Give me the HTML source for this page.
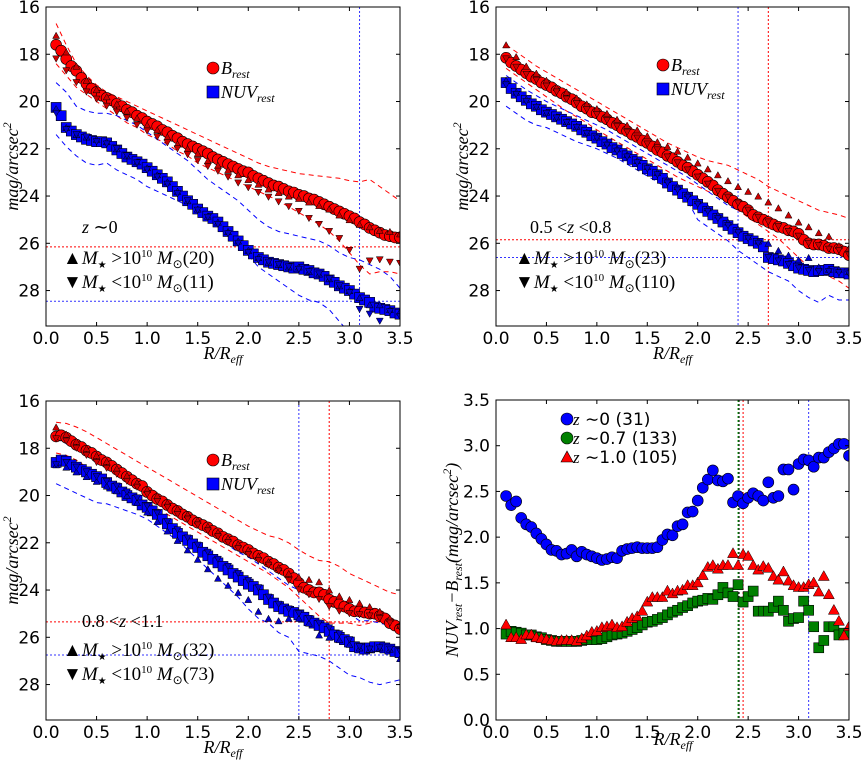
<!DOCTYPE html>
<html><head><meta charset="utf-8"><style>
body{margin:0;background:#fff;}
svg text{font-family:"DejaVu Sans","Liberation Sans",sans-serif;}
svg text.m{font-family:"Liberation Serif",serif;font-style:italic;}
svg text.s{font-family:"Liberation Serif",serif;}
</style></head><body>
<svg id="fig" width="863" height="760" viewBox="0 0 863 760" xmlns="http://www.w3.org/2000/svg"></svg>
<script>
// ---------- data ----------
const xTicks = [0.0,0.5,1.0,1.5,2.0,2.5,3.0,3.5];
const magTicks = [16,18,20,22,24,26,28];
const colTicks = [0.0,0.5,1.0,1.5,2.0,2.5,3.0,3.5];
// panel 1 (z~0)
const p1B = [17.6,17.85,18.2,18.5,18.7,19.0,19.25,19.45,19.6,19.75,19.85,19.95,20.1,20.2,20.35,20.45,20.6,20.7,20.85,20.95,21.05,21.2,21.3,21.45,21.55,21.7,21.8,21.9,22.0,22.1,22.2,22.35,22.45,22.55,22.65,22.75,22.85,22.95,23.0,23.15,23.25,23.35,23.45,23.55,23.6,23.7,23.8,23.85,23.95,24.0,24.1,24.15,24.25,24.35,24.45,24.55,24.65,24.75,24.85,24.95,25.1,25.2,25.35,25.45,25.55,25.65,25.7,25.75,25.75];
const p1N = [20.25,20.6,21.1,21.25,21.4,21.5,21.6,21.65,21.7,21.7,21.75,21.9,22.05,22.2,22.35,22.45,22.55,22.65,22.8,22.95,23.1,23.25,23.4,23.6,23.8,24.0,24.2,24.35,24.55,24.7,24.85,24.95,25.1,25.3,25.5,25.7,25.9,26.1,26.3,26.45,26.6,26.7,26.8,26.85,26.9,26.95,27.0,27.05,27.0,27.1,27.15,27.25,27.3,27.4,27.55,27.65,27.8,27.9,28.0,28.15,28.3,28.4,28.5,28.7,28.75,28.8,28.85,28.95,29.0];
const p1BHi = [17.2,17.9,18.5,19.1,19.5,19.8,20.1,20.4,20.7,21.0,21.2,21.5,21.8,22.0,22.2,22.5,22.7,22.9,23.1,23.3,23.5,23.7,23.85,24.0,24.1,24.25,24.4,24.55,24.8,25.0,25.2,25.3,25.45,25.5,25.6];
const p1BLo = [18.2,18.7,19.2,19.6,19.9,20.2,20.45,20.7,21.0,21.25,21.5,21.75,22.0,22.25,22.5,22.75,22.95,23.2,23.45,23.65,23.85,24.05,24.25,24.45,24.65,24.95,25.2,25.5,25.8,26.3,27.1,26.75,26.7,26.8,26.85];
const p1NHi = [20.3,21.1,21.4,21.5,21.6,21.7,22.0,22.3,22.55,22.8,23.1,23.4,23.8,24.2,24.55,24.85,25.1,25.5,25.9,26.3,26.6,26.8,26.9,27.0,27.0,27.2,27.3,27.5,27.8,28.0,28.3,28.6,28.6,28.8,28.9];
const p1NLo = [20.5,21.2,21.4,21.5,21.7,21.8,22.0,22.3,22.6,22.9,23.2,23.5,23.9,24.2,24.6,24.9,25.2,25.6,26.0,26.4,26.7,26.8,26.9,27.0,27.1,27.2,27.3,27.5,27.8,28.1,28.8,29.0,29.3,28.9,29.1];
const p1BUp = [16.7,17.6,18.4,18.9,19.3,19.6,19.8,20.0,20.2,20.4,20.6,20.8,21.0,21.2,21.4,21.6,21.8,22.0,22.2,22.4,22.6,22.75,22.85,22.95,23.05,23.1,23.15,23.2,23.25,23.35,23.4,23.3,23.6,23.9,24.2];
const p1BDn = [18.4,18.9,19.4,19.7,20.0,20.3,20.6,20.9,21.1,21.4,21.6,21.8,22.1,22.3,22.6,22.8,23.0,23.2,23.4,23.6,23.8,24.0,24.2,24.45,24.7,24.95,25.2,25.5,25.9,26.4,26.9,27.3,27.2,27.2,27.3];
const p1NUp = [19.2,19.6,20.2,20.4,20.5,20.5,20.6,20.8,21.0,21.3,21.6,21.9,22.2,22.5,22.9,23.3,23.6,23.9,24.2,24.6,25.0,25.3,25.5,25.6,25.7,25.8,25.9,26.1,26.4,26.6,26.7,26.9,27.1,27.4,27.9];
const p1NDn = [21.4,21.9,22.3,22.6,22.7,22.6,22.9,23.1,23.3,23.6,23.8,24.0,24.2,24.4,24.6,24.9,25.2,25.6,26.0,26.5,27.0,27.3,27.6,27.9,28.2,28.4,28.5,28.8,29.3,29.8,30,30,30,30,30];
// panel 2 (0.5<z<0.8)
const p2B = [18.15,18.35,18.5,18.65,18.8,18.95,19.05,19.2,19.3,19.4,19.55,19.65,19.8,19.9,20.05,20.2,20.3,20.45,20.5,20.65,20.75,20.9,21.0,21.15,21.25,21.4,21.5,21.65,21.75,21.9,22.05,22.15,22.3,22.4,22.55,22.7,22.8,22.95,23.1,23.25,23.4,23.55,23.75,23.9,24.05,24.2,24.35,24.45,24.6,24.8,24.9,25.0,25.1,25.2,25.3,25.35,25.45,25.5,25.6,25.85,26.0,26.05,26.05,26.1,26.2,26.2,26.25,26.35,26.5];
const p2N = [19.2,19.45,19.65,19.8,19.95,20.1,20.2,20.35,20.45,20.55,20.65,20.75,20.85,20.95,21.05,21.2,21.3,21.45,21.55,21.7,21.8,21.95,22.05,22.2,22.3,22.45,22.55,22.7,22.85,22.95,23.1,23.25,23.45,23.6,23.75,23.9,24.05,24.2,24.35,24.5,24.65,24.8,24.95,25.1,25.25,25.4,25.55,25.7,25.8,25.9,26.0,26.15,26.6,26.65,26.7,26.75,26.85,26.95,27.05,27.1,27.15,27.2,27.15,27.15,27.1,27.2,27.25,27.25,27.3];
const p2BHi = [17.6,18.1,18.5,18.8,19.1,19.4,19.6,19.85,20.1,20.3,20.5,20.75,21.0,21.2,21.45,21.7,21.9,22.1,22.35,22.6,22.85,23.1,23.35,23.6,23.8,24.0,24.25,24.5,24.8,25.1,25.3,25.55,25.7,26.1,26.2];
const p2BLo = [18.2,18.55,18.85,19.1,19.35,19.6,19.9,20.1,20.35,20.55,20.8,21.05,21.3,21.55,21.8,22.05,22.35,22.6,22.9,23.2,23.5,23.8,24.05,24.3,24.6,24.9,25.1,25.3,25.5,25.7,26.0,26.1,26.25,26.3,26.5];
const p2NHi = [19.1,19.6,19.9,20.2,20.45,20.65,20.85,21.05,21.3,21.5,21.75,22.0,22.25,22.5,22.75,23.0,23.3,23.6,23.9,24.2,24.5,24.8,25.1,25.4,25.7,25.9,26.0,26.3,26.5,26.7,26.6,27.0,27.1,27.1,27.2];
const p2NLo = [19.3,19.7,20.0,20.25,20.5,20.7,20.9,21.1,21.35,21.55,21.85,22.1,22.35,22.6,22.85,23.1,23.45,23.75,24.05,24.35,24.65,24.95,25.25,25.55,25.8,26.0,26.6,26.75,26.9,27.05,27.15,27.2,27.2,27.25,27.3];
const p2BUp = [17.6,17.9,18.2,18.5,18.75,19.0,19.25,19.5,19.75,20.0,20.25,20.5,20.75,21.0,21.25,21.5,21.75,21.95,22.15,22.35,22.5,22.6,22.7,22.9,23.1,23.3,23.6,23.8,24.0,24.2,24.4,24.6,24.7,24.8,24.95];
const p2BDn = [18.6,18.9,19.2,19.5,19.8,20.1,20.4,20.65,20.9,21.2,21.45,21.7,21.95,22.2,22.45,22.7,22.95,23.2,23.4,23.6,23.8,24.0,24.3,24.6,24.9,25.2,25.5,25.8,26.2,26.6,27.0,27.2,27.4,27.6,27.9];
const p2NUp = [18.9,19.2,19.5,19.75,20.0,20.2,20.4,20.6,20.8,21.0,21.2,21.45,21.7,21.95,22.2,22.45,22.7,22.95,23.2,23.5,23.8,24.1,24.4,24.6,24.7,24.9,25.1,25.3,25.5,25.7,25.9,25.9,26.0,26.1,26.2];
const p2NDn = [20.2,20.5,20.8,21.0,21.1,21.3,21.5,21.7,21.85,22.0,22.2,22.4,22.65,22.9,23.15,23.4,23.65,23.9,24.2,25.0,25.3,25.6,25.9,26.3,26.6,26.9,27.2,27.4,27.6,28.0,28.3,28.5,28.2,28.4,28.4];
// panel 3 (0.8<z<1.1)
const p3B = [17.5,17.45,17.55,17.7,17.85,17.95,18.1,18.2,18.35,18.5,18.6,18.75,18.9,19.05,19.2,19.35,19.5,19.6,19.85,20.0,20.15,20.25,20.4,20.55,20.65,20.8,20.9,21.05,21.15,21.25,21.35,21.5,21.6,21.75,21.85,21.95,22.1,22.2,22.3,22.45,22.55,22.65,22.8,22.9,23.05,23.15,23.3,23.5,23.7,23.9,24.0,24.1,24.1,24.2,24.4,24.5,24.6,24.7,24.8,24.9,24.9,24.95,25.0,25.0,25.1,25.2,25.4,25.5,25.65];
const p3N = [18.6,18.5,18.55,18.7,18.8,18.9,19.0,19.1,19.2,19.3,19.45,19.6,19.7,19.85,20.0,20.1,20.2,20.4,20.5,20.65,20.8,21.0,21.2,21.4,21.6,21.75,21.9,22.05,22.2,22.4,22.55,22.7,22.85,23.0,23.15,23.3,23.45,23.6,23.75,23.85,24.0,24.2,24.4,24.55,24.7,24.8,24.9,24.95,25.05,25.15,25.3,25.4,25.5,25.6,25.75,25.9,26.0,26.1,26.2,26.4,26.45,26.5,26.45,26.4,26.4,26.45,26.5,26.6,26.65];
const p3BHi = [17.1,17.4,17.7,18.0,18.3,18.55,18.85,19.15,19.45,19.75,20.0,20.3,20.55,20.8,21.05,21.3,21.55,21.8,22.05,22.3,22.55,22.8,23.05,23.3,23.45,23.55,23.65,24.0,24.25,24.4,24.55,24.7,24.9,25.2,25.5];
const p3BLo = [17.6,17.7,18.0,18.3,18.6,18.85,19.1,19.4,19.65,19.95,20.25,20.5,20.8,21.0,21.25,21.5,21.75,22.0,22.25,22.5,22.75,22.95,23.2,23.6,24.0,24.2,24.4,24.7,24.9,25.0,25.05,25.1,25.2,25.4,25.6];
const p3NHi = [18.7,18.8,19.0,19.2,19.4,19.6,19.8,20.0,20.3,20.7,21.1,21.5,21.9,22.3,22.7,23.1,23.5,23.8,24.1,24.4,24.9,25.2,25.3,25.2,25.2,25.4,25.9,26.0,26.1,26.3,26.45,26.5,26.45,26.5,26.9];
const p3NLo = [18.7,18.6,18.8,19.0,19.2,19.4,19.6,19.85,20.1,20.45,20.75,21.1,21.45,21.8,22.1,22.4,22.7,23.0,23.3,23.6,23.9,24.3,24.6,24.8,25.0,25.2,25.4,25.6,25.85,26.1,26.4,26.5,26.45,26.5,26.6];
const p3BUp = [16.9,16.95,17.1,17.3,17.55,17.8,18.05,18.3,18.55,18.8,19.05,19.3,19.55,19.8,20.05,20.3,20.55,20.8,21.05,21.3,21.5,21.7,21.8,22.0,22.3,22.55,22.75,22.8,23.0,23.3,23.5,23.7,23.9,24.1,24.2];
const p3BDn = [18.2,18.3,18.5,18.8,19.0,19.3,19.55,19.8,20.05,20.3,20.55,20.8,21.05,21.3,21.55,21.8,22.05,22.3,22.55,22.8,23.05,23.3,23.6,23.9,24.3,24.7,25.1,25.4,25.4,25.4,25.5,25.4,25.3,25.4,25.6];
const p3NUp = [17.6,17.8,18.0,18.2,18.4,18.7,18.95,19.2,19.45,19.7,20.0,20.3,20.6,20.9,21.2,21.5,21.8,22.1,22.4,22.6,22.9,23.2,23.5,23.8,24.0,24.2,24.3,24.5,24.7,25.0,25.3,25.3,25.4,25.5,25.6];
const p3NDn = [19.5,19.7,19.9,20.1,20.3,20.35,20.5,20.65,20.8,21.0,21.3,21.6,21.9,22.3,22.7,23.1,23.5,23.9,24.3,24.8,25.2,25.4,25.8,26.0,26.6,26.7,26.8,27.0,27.3,27.6,27.7,27.9,28.0,27.9,27.8];
// panel 4 colours
const c0 = [2.45,2.35,2.39,2.21,2.14,2.11,2.04,1.98,1.92,1.86,1.85,1.81,1.82,1.86,1.79,1.84,1.81,1.79,1.77,1.75,1.76,1.78,1.77,1.85,1.87,1.88,1.89,1.88,1.88,1.88,1.89,1.97,2.03,2.02,2.12,2.14,2.27,2.28,2.40,2.54,2.63,2.73,2.62,2.61,2.64,2.38,2.45,2.37,2.43,2.48,2.45,2.40,2.60,2.43,2.45,2.74,2.74,2.52,2.80,2.85,2.84,2.77,2.87,2.87,2.93,2.97,3.02,3.02,2.89];
const c07 = [0.94,0.97,0.96,0.95,0.93,0.93,0.91,0.90,0.88,0.87,0.86,0.86,0.86,0.86,0.86,0.87,0.88,0.88,0.88,0.89,0.91,0.93,0.94,0.95,0.97,0.99,1.01,1.04,1.07,1.08,1.10,1.12,1.15,1.18,1.20,1.23,1.25,1.28,1.30,1.31,1.33,1.32,1.37,1.45,1.39,1.35,1.48,1.29,1.35,1.41,1.19,1.19,1.19,1.23,1.30,1.20,1.08,1.11,1.12,1.30,1.20,1.02,0.79,0.87,1.02,1.02,0.93,0.95,0.95];
const c10 = [1.05,0.91,0.91,0.89,0.94,0.94,0.91,0.90,0.89,0.88,0.87,0.88,0.88,0.88,0.87,0.90,0.93,0.97,0.98,1.02,1.03,1.05,1.02,1.03,1.08,1.12,1.14,1.20,1.30,1.35,1.35,1.35,1.42,1.39,1.42,1.43,1.48,1.48,1.51,1.59,1.68,1.70,1.66,1.70,1.70,1.83,1.70,1.82,1.80,1.70,1.65,1.69,1.67,1.58,1.54,1.63,1.53,1.48,1.46,1.46,1.49,1.51,1.41,1.58,1.38,1.21,1.09,0.93,1.03];

// ---------- drawing ----------
const NS='http://www.w3.org/2000/svg';
const svg=document.getElementById('fig');
function el(tag,attrs,parent){const e=document.createElementNS(NS,tag);for(const k in attrs)e.setAttribute(k,attrs[k]);(parent||svg).appendChild(e);return e;}

function makePanel(name,L,R,T,B,ymin,ymax,inverted){
  const g=el('g',{});
  
  
  const sx=v=>L+(v-0)/(3.5)*(R-L);
  const sy=inverted? v=>T+(v-ymin)/(ymax-ymin)*(B-T) : v=>B-(v-ymin)/(ymax-ymin)*(B-T);
  const clipId='clip-'+name;
  const cp=el('clipPath',{id:clipId},g);
  el('rect',{x:L,y:T,width:R-L,height:B-T},cp);
  const plot=el('g',{'clip-path':'url(#'+clipId+')'},g);
  
  
  return {g,plot,sx,sy,L,R,T,B};
}
function frame(p,yTicks,fmt){
  const ax=el('g',{},p.g);
  
  
  el('rect',{x:p.L,y:p.T,width:p.R-p.L,height:p.B-p.T,fill:'none',stroke:'#000','stroke-width':1},ax);
  xTicks.forEach(v=>{const x=p.sx(v);
    el('line',{x1:x,x2:x,y1:p.B,y2:p.B-4,stroke:'#000'},ax);
    el('line',{x1:x,x2:x,y1:p.T,y2:p.T+4,stroke:'#000'},ax);
    const t=el('text',{x:x,y:p.B+18,'text-anchor':'middle','font-size':17},ax);t.textContent=v.toFixed(1);
    
    
  });
  yTicks.forEach(v=>{const y=p.sy(v);
    el('line',{x1:p.L,x2:p.L+4,y1:y,y2:y,stroke:'#000'},ax);
    el('line',{x1:p.R,x2:p.R-4,y1:y,y2:y,stroke:'#000'},ax);
    const t=el('text',{x:p.L-6,y:y+6,'text-anchor':'end','font-size':17},ax);t.textContent=fmt(v);
    
    
  });
}
function xsFor(arr,step){return arr.map((v,i)=>0.1+i*step);}
function dashed(p,arr,color){
  const xs=xsFor(arr,0.1);
  const d=arr.map((v,i)=>(i?'L':'M')+p.sx(xs[i]).toFixed(1)+','+p.sy(v).toFixed(1)).join('');
  const e=el('path',{d:d,fill:'none',stroke:color,'stroke-width':1,'stroke-dasharray':'5,4'},p.plot);
  
  
}
function circ(p,x,y,r,fill){const e=el('circle',{cx:p.sx(x),cy:p.sy(y),r:r,fill:fill,stroke:'#000','stroke-width':0.6},p.plot);
  
  }
function sq(p,x,y,s,fill){const e=el('rect',{x:p.sx(x)-s/2,y:p.sy(y)-s/2,width:s,height:s,fill:fill,stroke:'#000','stroke-width':0.6},p.plot);
  
  }
function tri(p,x,y,s,fill,up){const cx=p.sx(x),cy=p.sy(y),h=s*0.9;
  const pts=up?[[cx,cy-h/2],[cx-s/2,cy+h/2],[cx+s/2,cy+h/2]]:[[cx,cy+h/2],[cx-s/2,cy-h/2],[cx+s/2,cy-h/2]];
  const e=el('polygon',{points:pts.map(q=>q.join(',')).join(' '),fill:fill,stroke:'#000','stroke-width':0.5},p.plot);
  
  }
function vline(p,x,color){const e=el('line',{x1:p.sx(x),x2:p.sx(x),y1:p.T,y2:p.B,stroke:color,'stroke-width':1,'stroke-dasharray':'2,2'},p.plot);
  
  }
function hline(p,y,color){const e=el('line',{x1:p.L,x2:p.R,y1:p.sy(y),y2:p.sy(y),stroke:color,'stroke-width':1,'stroke-dasharray':'2,2'},p.plot);
  
  }
function html(x,y,markup,size,anchor,parent,name,rot,cls){
  const t=el('text',{x:x,y:y,'font-size':size||16,'text-anchor':anchor||'start'},parent||svg);
  if(rot)t.setAttribute('transform','rotate(-90 '+x+' '+y+')');
  if(cls)t.setAttribute('class',cls);
  t.innerHTML=markup;
  
  
  return t;
}

function magPanel(name,L,R,T,B,Bd,Nd,BHi,BLo,NHi,NLo,BUp,BDn,NUp,NDn,hR,hB,vB,vR,zText,nHi,nLo,legX,legY,zX,zY,loX,loY){
  const p=makePanel(name,L,R,T,B,16,29.5,true);
  hline(p,hR,'#ff0000'); hline(p,hB,'#3333ff');
  if(vB!==null)vline(p,vB,'#3333ff'); if(vR!==null)vline(p,vR,'#ff0000');
  dashed(p,BUp,'#ff0000');dashed(p,BDn,'#ff0000');dashed(p,NUp,'#0000ff');dashed(p,NDn,'#0000ff');
  const xs=xsFor(Bd,0.05), xt=xsFor(BHi,0.1);
  Bd.forEach((v,i)=>circ(p,xs[i],v,5.5,'#ff0000'));
  Nd.forEach((v,i)=>sq(p,xs[i],v,10,'#0000ff'));
  BHi.forEach((v,i)=>tri(p,xt[i],v,7,'#cc0000',true));
  NHi.forEach((v,i)=>tri(p,xt[i],v,7,'#0000cc',true));
  BLo.forEach((v,i)=>tri(p,xt[i],v,7,'#cc0000',false));
  NLo.forEach((v,i)=>tri(p,xt[i],v,7,'#0000cc',false));
  frame(p,magTicks,v=>String(v));
  const lg=el('g',{},p.g);
  
  
  el('circle',{cx:legX,cy:legY,r:6,fill:'#ff0000',stroke:'#000','stroke-width':0.6},lg);
  html(legX+8,legY+6,'B<tspan font-size="12" dy="4">rest</tspan>',18,'start',lg,'legend-b-rest',false,'m');
  el('rect',{x:legX-6,y:legY+18,width:12,height:12,fill:'#0000ff',stroke:'#000','stroke-width':0.6},lg);
  html(legX+8,legY+30,'NUV<tspan font-size="12" dy="4">rest</tspan>',18,'start',lg,'legend-nuv-rest',false,'m');
  html(zX,zY,zText,18,'start',p.g,'redshift-label',false,'s');
  const mk=(y,sym,rel,n)=>html(loX,y,sym+'<tspan font-style="italic">M</tspan><tspan font-size="10" dy="4">★</tspan><tspan dy="-4"> '+rel+'10</tspan><tspan font-size="11" dy="-7">10</tspan><tspan dy="7" font-style="italic"> M</tspan><tspan font-size="12" dy="4">⊙</tspan><tspan dy="-4">('+n+')</tspan>',19,'start',p.g,'mass-legend-entry',false,'s');
  mk(loY,'▲','&gt;',nHi); mk(loY+24,'▼','&lt;',nLo);
  html((L+R)/2,B+33,'R/R<tspan font-size="12" dy="4">eff</tspan>',18,'middle',p.g,'x-axis-title',false,'m');
  html(L-28,(T+B)/2,'mag/arcsec<tspan font-size="12" dy="-7">2</tspan>',18,'middle',p.g,'y-axis-title',true,'m');
  return p;
}

magPanel('panel-z0',46,400,7,326,p1B,p1N,p1BHi,p1BLo,p1NHi,p1NLo,p1BUp,p1BDn,p1NUp,p1NDn,26.15,28.45,3.1,null,'<tspan font-style="italic">z</tspan> ∼0','20','11',213,68,82,233,63,264);
magPanel('panel-z05-08',496,849,7,326,p2B,p2N,p2BHi,p2BLo,p2NHi,p2NLo,p2BUp,p2BDn,p2NUp,p2NDn,25.85,26.6,2.4,2.7,'0.5 &lt;<tspan font-style="italic">z</tspan> &lt;0.8','23','110',663,65,530,233,515,264);
magPanel('panel-z08-11',46,400,401,720,p3B,p3N,p3BHi,p3BLo,p3NHi,p3NLo,p3BUp,p3BDn,p3NUp,p3NDn,25.35,26.75,2.5,2.8,'0.8 &lt;<tspan font-style="italic">z</tspan> &lt;1.1','32','73',213,460,82,627,63,656);

(function(){
  const p=makePanel('panel-color',496,849,400,720,0,3.5,false);
  vline(p,2.4,'#00a000'); vline(p,2.41,'#000000'); vline(p,2.45,'#ff0000'); vline(p,3.1,'#3333ff');
  const xs=xsFor(c0,0.05);
  c0.forEach((v,i)=>circ(p,xs[i],v,5.5,'#0000ff'));
  c07.forEach((v,i)=>sq(p,xs[i],v,10,'#008000'));
  c10.forEach((v,i)=>tri(p,xs[i],v,11,'#ff0000',true));
  frame(p,colTicks,v=>v.toFixed(1));
  const lg=el('g',{},p.g);
  
  
  el('circle',{cx:567,cy:419,r:6,fill:'#0000ff',stroke:'#000','stroke-width':0.6},lg);
  el('circle',{cx:567,cy:438,r:6,fill:'#008000',stroke:'#000','stroke-width':0.6},lg);
  el('polygon',{points:'567,451 561,462 573,462',fill:'#ff0000',stroke:'#000','stroke-width':0.6},lg);
  html(573,425,'<tspan class="m" font-family="Liberation Serif" font-style="italic">z</tspan> ∼0 (31)',17,'start',lg,'legend-z0');
  html(573,444,'<tspan font-family="Liberation Serif" font-style="italic">z</tspan> ∼0.7 (133)',17,'start',lg,'legend-z07');
  html(573,463,'<tspan font-family="Liberation Serif" font-style="italic">z</tspan> ∼1.0 (105)',17,'start',lg,'legend-z10');
  html(673,745,'R/R<tspan font-size="12" dy="4">eff</tspan>',18,'middle',p.g,'x-axis-title',false,'m');
  html(458,560,'NUV<tspan font-size="12" dy="4">rest</tspan><tspan dy="-4">−B</tspan><tspan font-size="12" dy="4">rest</tspan><tspan dy="-4">(mag/arcsec</tspan><tspan font-size="12" dy="-7">2</tspan><tspan dy="7">)</tspan>',18,'middle',p.g,'y-axis-title',true,'m');
})();
</script>
</body></html>
